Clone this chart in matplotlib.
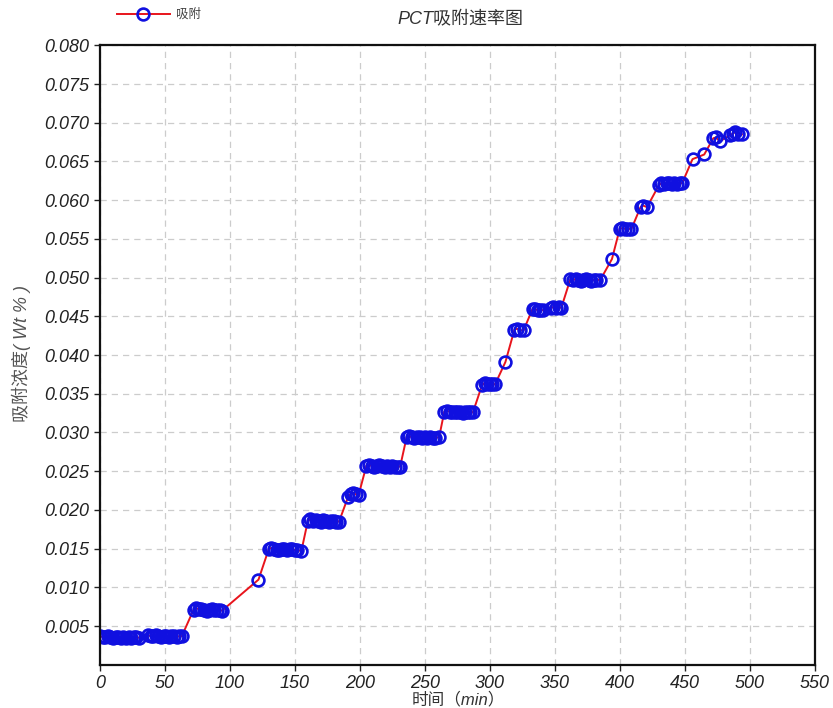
import numpy as np
import matplotlib.pyplot as plt

plt.rcParams['font.family'] = ['Liberation Sans', 'Noto Sans CJK SC', 'DejaVu Sans']

# adsorption time (min) and concentration (Wt%)
time_min = [0, 2, 4, 6, 8, 10, 12, 14, 16, 18, 20, 22, 24, 26, 28, 30,
            37, 39, 41, 43, 45, 47, 49, 51, 53, 55, 57, 59, 61, 63,
            72, 74, 76, 78, 80, 82, 84, 86, 88, 90, 92, 94,
            122,
            130, 132, 134, 136, 138, 140, 142, 144, 146, 148, 150, 152, 155,
            160, 162, 164, 166, 168, 170, 172, 174, 176, 178, 180, 182, 184,
            191, 193, 195, 197, 199,
            205, 207, 209, 211, 213, 215, 217, 219, 221, 223, 225, 227, 229, 231,
            236, 238, 240, 242, 244, 246, 248, 250, 252, 254, 256, 258, 261,
            265, 267, 269, 271, 273, 275, 277, 279, 281, 283, 285, 287,
            294, 296, 298, 300, 302, 304,
            312,
            319, 321, 323, 326,
            333, 335, 337, 339, 341, 347, 349, 351, 353, 355,
            362, 364, 366, 368, 370, 372, 374, 376, 378, 380, 382, 385,
            394,
            400, 402, 404, 406, 409,
            416, 418, 421,
            430, 432, 434, 436, 438, 440, 442, 444, 446, 448,
            456, 465,
            472, 474, 477,
            485, 487, 489, 491, 494]

conc = [.0037, .0036, .0036, .0037, .0036, .0035, .0036, .0036, .0035, .0036, .0035, .0036, .0035, .0036, .0036, .0035,
        .0038, .0037, .0037, .0038, .0037, .0036, .0037, .0037, .0036, .0037, .0037, .0036, .0037, .0037,
        .0071, .0073, .0072, .0072, .0071, .0069, .0071, .0072, .0071, .0071, .0071, .0070,
        .0110,
        .0150, .0151, .0149, .0148, .0148, .0149, .0150, .0148, .0149, .0150, .0148, .0148, .0147,
        .0186, .0188, .0186, .0187, .0186, .0185, .0187, .0186, .0185, .0186, .0186, .0185, .0185,
        .0217, .0221, .0222, .0220, .0219,
        .0257, .0258, .0257, .0256, .0257, .0258, .0257, .0256, .0257, .0256, .0257, .0256, .0256, .0256,
        .0294, .0295, .0294, .0293, .0294, .0294, .0293, .0294, .0293, .0294, .0293, .0293, .0294,
        .0327, .0328, .0327, .0326, .0327, .0327, .0326, .0325, .0326, .0327, .0326, .0326,
        .0361, .0364, .0363, .0362, .0363, .0362,
        .0391,
        .0433, .0434, .0432, .0432,
        .0460, .0459, .0458, .0458, .0458, .0461, .0462, .0461, .0462, .0461,
        .0498, .0497, .0498, .0497, .0496, .0497, .0498, .0497, .0496, .0497, .0497, .0497,
        .0524,
        .0563, .0564, .0563, .0563, .0563,
        .0591, .0593, .0591,
        .0619, .0622, .0621, .0622, .0622, .0621, .0622, .0621, .0622, .0622,
        .0653, .0659,
        .0680, .0681, .0676,
        .0684, .0686, .0688, .0686, .0685]

xticks = np.arange(0, 551, 50)
yticks = np.arange(0.005, 0.0801, 0.005)

fig = plt.figure(figsize=(8.33, 7.08), dpi=100)
ax = fig.add_axes([0.12, 0.061, 0.858, 0.875])

ax.plot(time_min, conc, color='#e8141c', lw=1.4, marker='o', ms=8.5,
        mfc='none', mec='#1010e0', mew=1.9, label='吸附')

ax.set_xlim(0, 550)
ax.set_ylim(0, 0.080)
ax.set_xticks(xticks)
ax.set_yticks(yticks)
ax.set_xticklabels([str(v) for v in xticks], fontsize=13, style='italic')
ax.set_yticklabels(['%.3f' % v for v in yticks], fontsize=13, style='italic')
ax.tick_params(direction='out', length=4, width=1, colors='#222222')
ax.grid(True, ls=(0, (5, 4)), color='#cccccc', lw=0.9)
for s in ax.spines.values():
    s.set_linewidth(1.6)
    s.set_color('#111111')

fig.text(0.553, 1 - 19 / 708, 'PCT吸附速率图', ha='center', va='center',
         fontsize=13, style='italic', color='#333333')
fig.text(0.026, 0.5, '吸附浓度( Wt % )', rotation=90, ha='center', va='center',
         fontsize=13, style='italic', color='#555555')
fig.text(0.55, 1 / 708, '时间（min）', ha='center', va='bottom',
         fontsize=12, style='italic', color='#333333')

fig.legend(loc='center left', bbox_to_anchor=(112 / 833, 1 - 15 / 708),
           frameon=False, handlelength=4.2, fontsize=9,
           labelcolor='#444444', borderaxespad=0, handletextpad=0.5)

fig.savefig('out.png', dpi=100)
